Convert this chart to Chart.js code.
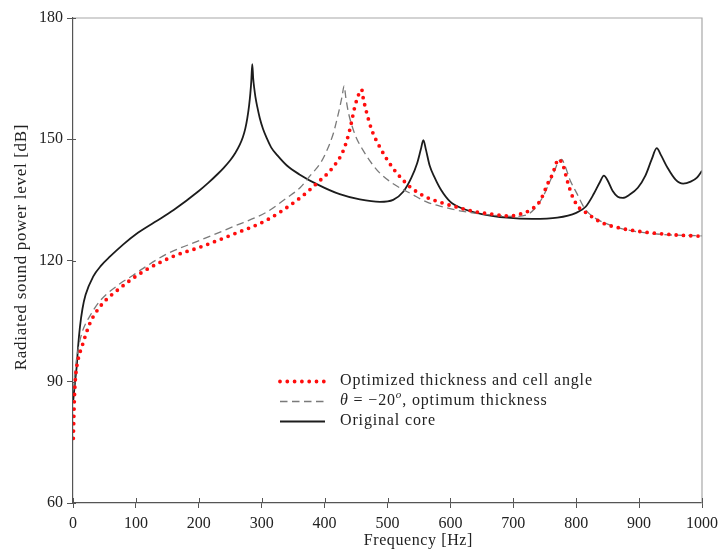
<!DOCTYPE html>
<html>
<head>
<meta charset="utf-8">
<script src="https://cdn.jsdelivr.net/npm/chart.js@4.4.1/dist/chart.umd.min.js"></script>
<style>
  html, body { margin: 0; padding: 0; background: #fff; }
  #wrap { width: 718px; height: 552px; }
</style>
</head>
<body>
<div id="wrap"><canvas id="splChart" width="718" height="552"></canvas></div>
<script>
// radiated sound power level [dB] against frequency [Hz]

// optimized thickness and cell angle
const freqOpt = [0.5, 1.5, 2.5, 4, 8, 14, 27, 43, 75, 111, 159, 202, 255, 308, 361, 387, 414, 430, 440, 448, 455, 459,
  461, 467, 475, 488, 507, 520, 536, 560, 588, 615, 642, 670, 695, 711, 727, 742, 755, 763, 768, 772, 776, 779, 787,
  795, 805, 817, 830, 843, 870, 900, 922, 960, 1000];
const splOpt = [76, 82, 87, 91, 95.4, 98.6, 104.5, 108.6, 113.2, 117.2, 121, 123.3, 126.5, 130, 135.5, 139, 143.2, 147.3, 152.3, 158, 161.4, 162.3,
  160.5, 156.5, 152.3, 148, 143.2, 140.7, 138.2, 135.8, 134.2, 133, 132, 131.4, 131, 131.5, 132.5, 134.6, 139.1, 141.6, 144, 145.1, 144.5, 143.6, 139.1,
  135.5, 133, 131.7, 130.3, 129.2, 128, 127.2, 126.8, 126.3, 126];

// theta = -20 deg, optimum thickness
const freqTheta = [1, 3, 6, 10, 15, 27, 43, 75, 95, 111, 149, 202, 255, 308, 340, 361, 377, 393, 403, 414, 419, 424, 428, 431,
  434, 438, 443, 450, 461, 475, 488, 509, 540, 562, 590, 615, 668, 700, 720, 735, 748, 758, 765, 772, 777, 782, 790,
  801, 813, 827, 850, 880, 933, 1000];
const splTheta = [88, 92, 96, 99.5, 102.5, 106.3, 110, 114.3, 116.3, 118, 121.6, 125, 128.4, 132, 135.5, 138, 141, 144, 147, 151.5, 154.5, 157.8, 160.8, 163.2,
  160, 156.5, 153.6, 150.5, 147.3, 144, 141.6, 139, 136.3, 134.5, 133.2, 132.3, 131.2, 130.9, 131.2, 133, 136, 139.5, 142, 144.5, 145, 143.5, 140,
  136.6, 133, 130.8, 129, 127.6, 126.5, 126.1];

// original core
const freqOrig = [0.5, 2, 4, 6, 8, 11, 15, 20, 32, 45, 59, 80, 100, 130, 160, 200, 215, 230, 240, 250, 258, 265, 270, 274, 277, 280, 282, 283.5, 285,
  286.5, 288, 290, 293, 297, 302, 308, 315, 325, 340, 360, 390, 424, 456, 488, 509, 525, 538, 547, 553, 557, 561, 567, 575, 585,
  600, 620, 650, 690, 730, 770, 800, 815, 828, 838, 844, 850, 858, 866, 874, 885, 898, 910, 920, 928, 935, 945, 958,
  970, 982, 992, 1000];
const splOrig = [85.5, 88, 91, 94, 98.5, 103.5, 108, 111.5, 116, 118.8, 121, 124, 126.5, 129.5, 132.5, 137.2, 139.2, 141.4, 143, 144.8, 146.6, 148.6, 150.5, 152.7, 155.1, 158.4, 161.4, 164.5, 168.6,
  165, 162.8, 160.5, 158, 155.2, 152.6, 150.3, 148, 146, 143.5, 141.3, 138.7, 136.4, 135.1, 134.5, 135, 137, 140.5, 144, 147.5, 149.8, 147.5, 143.5, 140.5, 137.5,
  134.5, 132.8, 131.5, 130.6, 130.3, 130.6, 131.8, 133.3, 136.5, 139.5, 141, 139.8, 137.2, 135.8, 135.5, 136.3, 138, 141, 145, 147.8, 146, 143, 140,
  139, 139.5, 140.5, 142.2];

const freqMin = 0, freqMax = 1000, freqStep = 100;
const splMin = 60, splMax = 180, splStep = 30;

const xTitle = 'Frequency [Hz]';
const yTitle = 'Radiated sound power level [dB]';
const labelOpt = 'Optimized thickness and cell angle';
const labelTheta = ['θ', ' = −20', 'o', ', optimum thickness'];
const labelOrig = 'Original core';

const serif = '"Liberation Serif", "DejaVu Serif", serif';

function toPoints(f, v) {
  return f.map((x, i) => ({ x: x, y: v[i] }));
}

// box lines, inner tick halves, axis titles and the in-plot legend
const decorPlugin = {
  id: 'decor',
  afterDraw(chart) {
    const ctx = chart.ctx;
    const a = chart.chartArea;
    const xs = chart.scales.x, ys = chart.scales.y;
    ctx.save();

    ctx.strokeStyle = '#a8a8a8';
    ctx.lineWidth = 1.2;
    ctx.beginPath();
    ctx.moveTo(a.left, a.top);
    ctx.lineTo(a.right, a.top);
    ctx.lineTo(a.right, a.bottom);
    ctx.stroke();

    ctx.strokeStyle = '#555';
    ctx.lineWidth = 1;
    ctx.beginPath();
    xs.ticks.forEach(t => {
      const px = Math.round(xs.getPixelForValue(t.value)) + 0.5;
      ctx.moveTo(px, a.bottom);
      ctx.lineTo(px, a.bottom - 5);
    });
    ys.ticks.forEach(t => {
      const py = Math.round(ys.getPixelForValue(t.value)) + 0.5;
      ctx.moveTo(a.left, py);
      ctx.lineTo(a.left + 3, py);
    });
    ctx.stroke();

    ctx.fillStyle = '#222';
    ctx.letterSpacing = '0.6px';
    ctx.font = '16px ' + serif;
    ctx.textAlign = 'center';
    ctx.textBaseline = 'middle';
    ctx.fillText(xTitle, a.left + (a.right - a.left) * 0.549, 541);

    ctx.save();
    ctx.translate(22, 247);
    ctx.rotate(-Math.PI / 2);
    ctx.font = '17px ' + serif;
    ctx.letterSpacing = '0.7px';
    ctx.fillText(yTitle, 0, 0);
    ctx.restore();

    // legend
    const sx0 = 280, sx1 = 325, tx = 340;
    const rows = [381, 401, 421];
    chart.data.datasets.forEach((ds, i) => {
      const y = rows[i] + 0.5;
      ctx.save();
      ctx.strokeStyle = ds.borderColor;
      ctx.lineWidth = ds.borderWidth;
      ctx.lineCap = ds.borderCapStyle || 'butt';
      ctx.setLineDash(ds.borderDash || []);
      ctx.beginPath();
      ctx.moveTo(sx0, y);
      ctx.lineTo(sx1, y);
      ctx.stroke();
      ctx.restore();
    });
    ctx.textAlign = 'left';
    ctx.fillStyle = '#222';
    ctx.letterSpacing = '0.85px';
    ctx.font = '16px ' + serif;
    ctx.fillText(labelOpt, tx, rows[0]);
    let x = tx;
    ctx.font = 'italic 16px ' + serif;
    ctx.fillText(labelTheta[0], x, rows[1]);
    x += ctx.measureText(labelTheta[0]).width;
    ctx.font = '16px ' + serif;
    ctx.fillText(labelTheta[1], x, rows[1]);
    x += ctx.measureText(labelTheta[1]).width;
    ctx.font = 'italic 11px ' + serif;
    ctx.fillText(labelTheta[2], x, rows[1] - 6);
    x += ctx.measureText(labelTheta[2]).width;
    ctx.font = '16px ' + serif;
    ctx.fillText(labelTheta[3], x, rows[1]);
    ctx.fillText(labelOrig, tx, rows[2]);

    ctx.restore();
  }
};

new Chart(document.getElementById('splChart'), {
  type: 'line',
  data: {
    datasets: [{
      label: labelOpt,
      data: toPoints(freqOpt, splOpt),
      borderColor: '#ff0d0d',
      borderWidth: 3.8,
      borderDash: [0, 7.3],
      borderCapStyle: 'round',
      cubicInterpolationMode: 'monotone',
      pointRadius: 0,
      fill: false
    }, {
      label: 'theta = -20, optimum thickness',
      data: toPoints(freqTheta, splTheta),
      borderColor: '#7a7a7a',
      borderWidth: 1.3,
      borderDash: [7.5, 4.5],
      cubicInterpolationMode: 'monotone',
      pointRadius: 0,
      fill: false
    }, {
      label: labelOrig,
      data: toPoints(freqOrig, splOrig),
      borderColor: '#1c1c1c',
      borderWidth: 1.8,
      cubicInterpolationMode: 'monotone',
      pointRadius: 0,
      fill: false
    }]
  },
  options: {
    responsive: false,
    animation: false,
    layout: { padding: { left: 0, top: 18, right: 16, bottom: 0 } },
    plugins: {
      legend: { display: false },
      tooltip: { enabled: false }
    },
    scales: {
      x: {
        type: 'linear',
        min: freqMin,
        max: freqMax,
        afterFit: s => { s.height = 49; s.paddingLeft = 0; s.paddingRight = 0; },
        ticks: {
          stepSize: freqStep,
          color: '#222',
          padding: 6,
          maxRotation: 0,
          font: { family: serif, size: 16 },
          callback: v => String(v)
        },
        grid: { drawOnChartArea: false, tickLength: 5, color: '#555', lineWidth: 1 },
        border: { color: '#555', width: 1.2 }
      },
      y: {
        min: splMin,
        max: splMax,
        afterFit: s => { s.width = 73; s.paddingTop = 0; s.paddingBottom = 0; },
        ticks: {
          stepSize: splStep,
          color: '#222',
          padding: 4,
          font: { family: serif, size: 16 }
        },
        grid: { drawOnChartArea: false, tickLength: 6, color: '#555', lineWidth: 1 },
        border: { color: '#555', width: 1.2 }
      }
    }
  },
  plugins: [decorPlugin]
});
</script>
</body>
</html>
